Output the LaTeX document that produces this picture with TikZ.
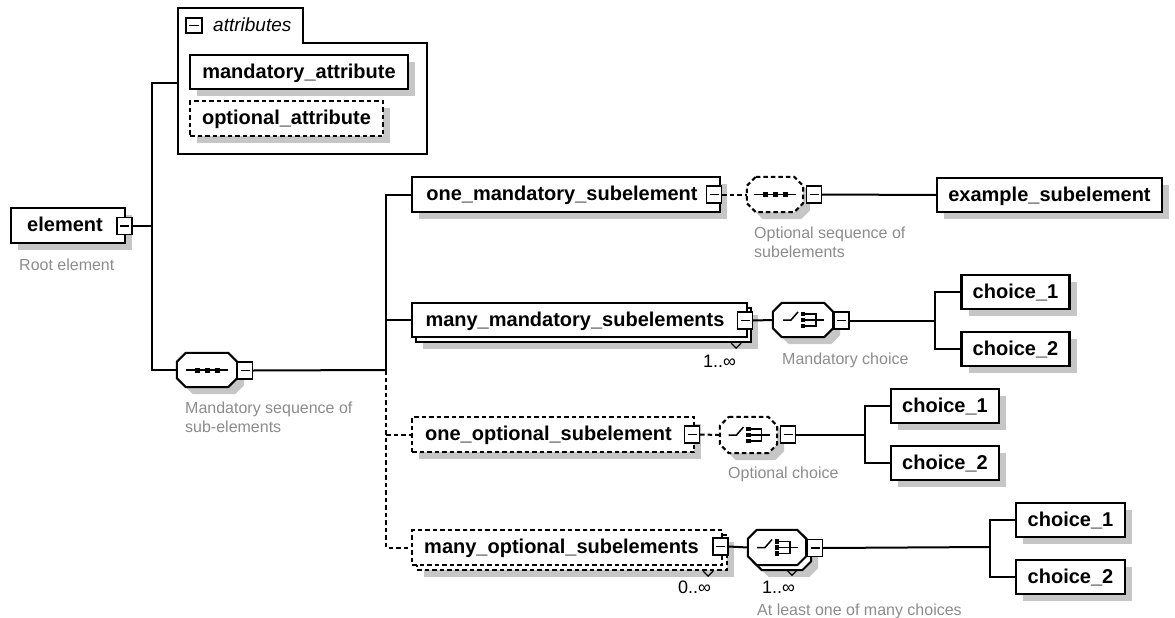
\documentclass[tikz,border=0pt]{standalone}
\usepackage{fontspec}
\setmainfont{Liberation Sans}
\usetikzlibrary{shadows}
\definecolor{shadowgray}{RGB}{198,198,198}
\definecolor{notegray}{RGB}{140,140,140}
\newcommand\octpath[2]{\draw[#2] ([xshift=9pt]#1.north west) -- ([xshift=-9pt]#1.north east) -- ([yshift=-9pt]#1.north east) -- ([yshift=9pt]#1.south east) -- ([xshift=-9pt]#1.south east) -- ([xshift=9pt]#1.south west) -- ([yshift=9pt]#1.south west) -- ([yshift=-9pt]#1.north west) -- cycle;}
\begin{document}
\begin{tikzpicture}[x=1pt,y=-1pt,
  shad/.style={general shadow={fill=shadowgray,shadow xshift=7pt,shadow yshift=-7pt}},
  plainbox/.style={draw,fill=white,line width=2.3pt,minimum height=34pt,inner sep=0pt,text height=14.5pt,text depth=2.5pt,font=\fontsize{20}{24}\selectfont\bfseries},
  elbox/.style={plainbox,shad},
  optdash/.style={dash pattern=on 4.5pt off 3pt},
  minus/.style={draw,fill=white,line width=1.4pt,minimum width=15pt,minimum height=17pt,inner sep=0pt,
    path picture={\draw[line width=1.4pt] ([xshift=3pt]path picture bounding box.west) -- ([xshift=-3pt]path picture bounding box.east);}},
  octo/.style={rectangle,draw=none,minimum width=60pt,minimum height=34pt,inner sep=0pt},
  octline/.style={fill=white,line width=2pt},
  conn/.style={line width=2pt},
  note/.style={text=notegray,font=\fontsize{16}{18.5}\selectfont,inner sep=0pt,align=left,anchor=base west},
  occurs/.style={font=\fontsize{18}{20}\selectfont,inner sep=0pt,anchor=base west},
  vmark/.style={line width=1.2pt},
  seqicon/.pic={
    \draw[line width=1.5pt] (-21,0) -- (21,0);
    \foreach \d in {-10,0,10} \fill (\d-2.5,-2.5) rectangle (\d+2.5,2.5);
  },
  choiceicon/.pic={
    \draw[line width=1.5pt] (-20,0) -- (-12,0) -- (-5,-8);
    \foreach \d in {-6,0,6} \fill (-2.4,\d-2.1) rectangle (2.4,\d+2.1);
    \draw[line width=1.5pt] (2,-6) -- (13,-6) (2,0) -- (21,0) (2,6) -- (13,6) (13,-6.75) -- (13,6.75);
  }
]
\useasboundingbox (0,0) rectangle (1175,618);

% attributes container
\draw[line width=2pt] (178,8) -- (303,8) -- (303,43) -- (427,43) -- (427,154) -- (178,154) -- cycle;
\node[minus,minimum width=16pt,minimum height=15pt] (attrminus) at (194,25.5) {};
\node[anchor=base west,inner sep=0pt,font=\fontsize{19}{22}\selectfont\itshape] (attrlbl) at (213,32) {attributes};
\node[elbox,minimum width=218pt] (mattr) at (299,72) {mandatory\_attribute};
\node[elbox,optdash,minimum width=193pt,minimum height=35pt] (oattr) at (286.5,118.5) {optional\_attribute};

% root element
\node[elbox,minimum width=114pt,minimum height=35pt] (elem) at (68,225.5) {element\hspace*{6pt}};
\node[minus] (elemminus) at (124.5,226) {};
\node[note] (rootlbl) at (19,270) {Root element};

% mandatory sequence
\node[octo] (seq) at (207,370) {};
\octpath{seq}{octline,shad}
\pic at (seq.center) {seqicon};
\node[minus] (seqminus) at (245,370.5) {};
\node[note] (seqlbl) at (185,432) {Mandatory sequence of\\sub-elements};

% one mandatory
\node[elbox,minimum width=308pt,minimum height=35pt] (om) at (566,194.5) {one\_mandatory\_subelement\hspace*{8pt}};
\node[minus] (omminus) at (714,194.5) {};
\node[octo,minimum width=56pt,minimum height=35pt] (optseq) at (775,194.5) {};
\octpath{optseq}{octline,shad,optdash}
\pic at (optseq.center) {seqicon};
\node[minus] (optseqminus) at (814,194.5) {};
\node[note] (optseqlbl) at (754,257) {Optional sequence of\\subelements};
\node[elbox,minimum width=225pt] (ex) at (1049.5,195) {example\_subelement};

% many mandatory
\node[elbox,minimum width=335pt] (mmback) at (583.5,325) {};
\node[plainbox,minimum width=335pt] (mm) at (579.5,320) {many\_mandatory\_subelements\hspace*{9pt}};
\node[minus] (mmminus) at (745,320.5) {};
\draw[vmark] (mmback.south east) ++(-21,0) -- ++(5,5) -- ++(5,-5);
\node[occurs] (mmocc) at (703,367) {1..∞};
\node[octo] (mch) at (803,320) {};
\octpath{mch}{octline,shad}
\pic at (mch.center) {choiceicon};
\node[minus] (mchminus) at (841.5,320.5) {};
\node[note] (mchlbl) at (782,364) {Mandatory choice};
\node[elbox,minimum width=108pt] (mc1) at (1015.5,292) {choice\_1};
\node[elbox,minimum width=108pt] (mc2) at (1015.5,349) {choice\_2};

% one optional
\node[elbox,optdash,minimum width=282pt,minimum height=35pt] (oo) at (553,434.5) {one\_optional\_subelement\hspace*{9pt}};
\node[minus] (oominus) at (692,434.5) {};
\node[octo,minimum width=57pt,minimum height=36pt] (och) at (748.5,435) {};
\octpath{och}{octline,shad,optdash}
\pic at (och.center) {choiceicon};
\node[minus] (ochminus) at (788,434.5) {};
\node[note] (ochlbl) at (728,478) {Optional choice};
\node[elbox,minimum width=108pt] (oc1) at (945,406) {choice\_1};
\node[elbox,minimum width=108pt] (oc2) at (945,463) {choice\_2};

% many optional
\node[elbox,optdash,minimum width=310pt,minimum height=35pt] (moback) at (572,552.5) {};
\node[plainbox,optdash,minimum width=310pt,minimum height=35pt] (mo) at (567,547.5) {many\_optional\_subelements\hspace*{11pt}};
\node[minus] (mominus) at (720.5,546.5) {};
\draw[vmark] (moback.south east) ++(-25,0) -- ++(5,5) -- ++(5,-5);
\node[occurs] (moocc) at (678,593) {0..∞};
\node[octo,minimum width=58pt,minimum height=35pt] (achback) at (782,552.5) {};
\octpath{achback}{octline,shad}
\node[octo,minimum width=58pt,minimum height=35pt] (ach) at (777,547.5) {};
\octpath{ach}{octline}
\pic at (ach.center) {choiceicon};
\node[minus] (achminus) at (815,548) {};
\draw[vmark] (achback.south) ++(5,0) -- ++(5,5) -- ++(5,-5);
\node[occurs] (achocc) at (762,593) {1..∞};
\node[note] (achlbl) at (757,615) {At least one of many choices};
\node[elbox,minimum width=109pt] (ac1) at (1070.5,520) {choice\_1};
\node[elbox,minimum width=109pt] (ac2) at (1070.5,577) {choice\_2};

% junctions
\coordinate (attrL) at (178,83);
\coordinate (j1top) at (152,83);
\coordinate (j1bot) at (152,370);
\coordinate (j2top) at (386,194.5);
\coordinate (j2) at (386,370);
\coordinate (j2bot) at (386,547.5);
\coordinate (j3) at (935,320.5);
\coordinate (j4) at (865,434.5);
\coordinate (j5) at (990,547);

% connectors
\draw[conn] (attrL) -- (j1top) -- (j1bot) -- (seq.west);
\draw[conn] (elemminus.east) -- (elemminus.east -| j1top);
\draw[conn] (seqminus.east) -- (j2);
\draw[conn] (om.west) -- (j2top) -- (j2);
\draw[conn] (mm.west) -- (mm.west -| j2);
\draw[conn,optdash] (j2) -- (j2bot) -- (mo.west);
\draw[conn,optdash] (oo.west -| j2) -- (oo.west);
\draw[conn,optdash] (omminus.east) -- (optseq.west);
\draw[conn] (optseqminus.east) -- (ex.west);
\draw[conn] (mmminus.east) -- (mch.west);
\draw[conn] (mchminus.east) -- (j3);
\draw[conn] (mc1.west) -| (j3) |- (mc2.west);
\draw[conn,optdash] (oominus.east) -- (och.west);
\draw[conn] (ochminus.east) -- (j4);
\draw[conn] (oc1.west) -| (j4) |- (oc2.west);
\draw[conn] (mominus.east) -- (ach.west);
\draw[conn] (achminus.east) -- (j5);
\draw[conn] (ac1.west) -| (j5) |- (ac2.west);
\end{tikzpicture}
\end{document}
